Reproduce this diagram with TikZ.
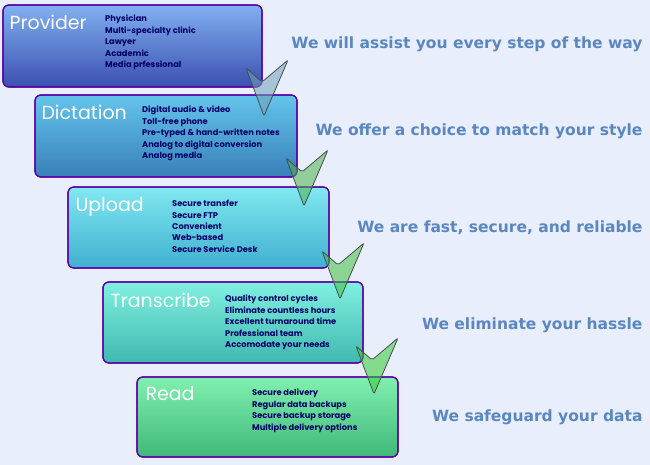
\documentclass[tikz,border=0pt]{standalone}
\usepackage{fontspec}
\setmainfont{DejaVu Sans}
\newfontfamily\gfont{Poppins}
\begin{document}
\begin{tikzpicture}[x=1pt,y=-1pt,
 box/.style={rounded corners=6pt, draw=violet!70!blue, line width=1.2pt},
 ttl/.style={anchor=west, text=white, font=\gfont\fontsize{19}{19}\selectfont},
 itm/.style={anchor=north west, text=blue!40!black, font=\gfont\bfseries\fontsize{8.3}{11.4}\selectfont, align=left, inner sep=0pt},
 tag/.style={anchor=east, font=\bfseries\fontsize{15.5}{16}\selectfont},
 chev/.style={draw=gray!60!black, line width=0.8pt, fill opacity=0.55, rounded corners=2pt}]
\definecolor{bg}{HTML}{E8EEFC}
\definecolor{tagc}{HTML}{5B87C0}
\fill[bg] (0,0) rectangle (650,465);
\useasboundingbox (0,0) rectangle (650,465);
% boxes
\shade[box,top color={rgb,255:red,128;green,176;blue,240}, bottom color={rgb,255:red,60;green,80;blue,176}] (3,5) rectangle (262,87);
\draw[box] (3,5) rectangle (262,87);
\shade[box,top color={rgb,255:red,100;green,196;blue,236}, bottom color={rgb,255:red,56;green,128;blue,184}] (35,95) rectangle (297,177);
\draw[box] (35,95) rectangle (297,177);
\shade[box,top color={rgb,255:red,128;green,232;blue,240}, bottom color={rgb,255:red,64;green,176;blue,208}] (68,187) rectangle (329,268);
\draw[box] (68,187) rectangle (329,268);
\shade[box,top color={rgb,255:red,128;green,240;blue,224}, bottom color={rgb,255:red,64;green,184;blue,176}] (103,282) rectangle (363,363);
\draw[box] (103,282) rectangle (363,363);
\shade[box,top color={rgb,255:red,128;green,240;blue,176}, bottom color={rgb,255:red,64;green,184;blue,120}] (137,377) rectangle (398,457);
\draw[box] (137,377) rectangle (398,457);
% titles
\node[ttl] (t1) at (6,22) {Provider};
\node[ttl] (t2) at (38,112) {Dictation};
\node[ttl] (t3) at (72,207) {Upload};
\node[ttl] (t4) at (107,300) {Transcribe};
\node[ttl] (t5) at (142,394) {Read};
% items
\node[itm] (i1) at (105,15) {Physician\\Multi-specialty clinic\\Lawyer\\Academic\\Media prfessional};
\node[itm] (i2) at (142,106) {Digital audio \& video\\Toll-free phone\\Pre-typed \& hand-written notes\\Analog to digital conversion\\Analog media};
\node[itm] (i3) at (172,200) {Secure transfer\\Secure FTP\\Convenient\\Web-based\\Secure Service Desk};
\node[itm] (i4) at (225,295) {Quality control cycles\\Eliminate countless hours\\Excellent turnaround time\\Professional team\\Accomodate your needs};
\node[itm] (i5) at (252,389) {Secure delivery\\Regular data backups\\Secure backup storage\\Multiple delivery options};
% chevrons
\foreach \dx/\dy/\c in {0/0/cyan!40!gray, 40/90/green!40!gray, 76/183/green!50!gray, 110/278/green!60!gray}{
 \filldraw[chev, fill=\c] (246+\dx,68+\dy) -- (262+\dx,82+\dy) -- (288+\dx,60+\dy) -- (264+\dx,116+\dy) -- cycle;
}
% taglines
\node[tag,text=tagc] (g1) at (646,44) {We will assist you every step of the way};
\node[tag,text=tagc] (g2) at (646,131) {We offer a choice to match your style};
\node[tag,text=tagc] (g3) at (646,228) {We are fast, secure, and reliable};
\node[tag,text=tagc] (g4) at (646,325) {We eliminate your hassle};
\node[tag,text=tagc] (g5) at (646,417) {We safeguard your data};
\end{tikzpicture}
\end{document}
